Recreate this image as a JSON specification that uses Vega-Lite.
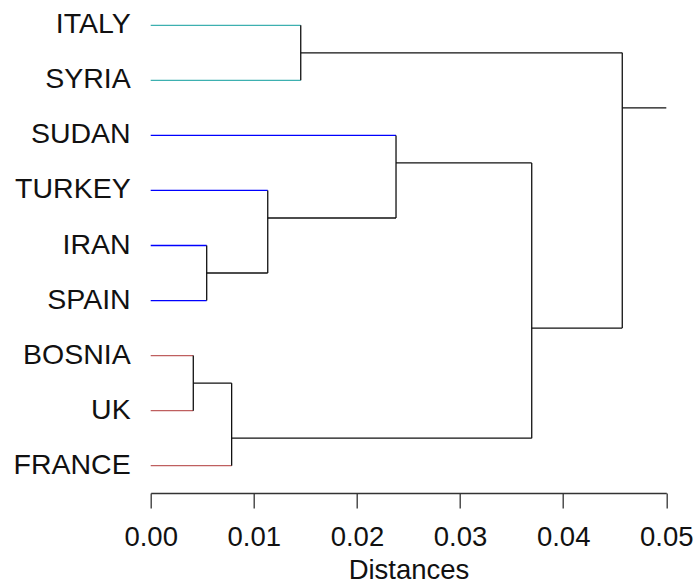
{
  "$schema": "https://vega.github.io/schema/vega-lite/v6.json",
  "width": 515.6,
  "height": 440.4,
  "autosize": "none",
  "padding": {"left": 150.7, "top": 25.3, "right": 27.7, "bottom": 119.3},
  "background": "white",
  "config": {"view": {"stroke": null}, "font": "Liberation Sans"},
  "data": {
    "values": [
      {"x": 0, "x2": 0.01455, "y": 0, "y2": 0, "grp": "g1", "label": "ITALY"},
      {"x": 0, "x2": 0.01455, "y": 1, "y2": 1, "grp": "g1", "label": "SYRIA"},
      {"x": 0, "x2": 0.02379, "y": 2, "y2": 2, "grp": "g2", "label": "SUDAN"},
      {"x": 0, "x2": 0.01135, "y": 3, "y2": 3, "grp": "g2", "label": "TURKEY"},
      {"x": 0, "x2": 0.00543, "y": 4, "y2": 4, "grp": "g2", "label": "IRAN"},
      {"x": 0, "x2": 0.00543, "y": 5, "y2": 5, "grp": "g2", "label": "SPAIN"},
      {"x": 0, "x2": 0.00413, "y": 6, "y2": 6, "grp": "g3", "label": "BOSNIA"},
      {"x": 0, "x2": 0.00413, "y": 7, "y2": 7, "grp": "g3", "label": "UK"},
      {"x": 0, "x2": 0.00785, "y": 8, "y2": 8, "grp": "g3", "label": "FRANCE"},
      {"x": 0.01455, "x2": 0.01455, "y": 0, "y2": 1, "grp": "node"},
      {"x": 0.00543, "x2": 0.00543, "y": 4, "y2": 5, "grp": "node"},
      {"x": 0.01135, "x2": 0.01135, "y": 3, "y2": 4.5, "grp": "node"},
      {"x": 0.02379, "x2": 0.02379, "y": 2, "y2": 3.5, "grp": "node"},
      {"x": 0.00413, "x2": 0.00413, "y": 6, "y2": 7, "grp": "node"},
      {"x": 0.00785, "x2": 0.00785, "y": 6.5, "y2": 8, "grp": "node"},
      {"x": 0.03695, "x2": 0.03695, "y": 2.5, "y2": 7.5, "grp": "node"},
      {"x": 0.04573, "x2": 0.04573, "y": 0.5, "y2": 5.5, "grp": "node"},
      {"x": 0.00543, "x2": 0.01135, "y": 4.5, "y2": 4.5, "grp": "node"},
      {"x": 0.01135, "x2": 0.02379, "y": 3.5, "y2": 3.5, "grp": "node"},
      {"x": 0.02379, "x2": 0.03695, "y": 2.5, "y2": 2.5, "grp": "node"},
      {"x": 0.00413, "x2": 0.00785, "y": 6.5, "y2": 6.5, "grp": "node"},
      {"x": 0.00785, "x2": 0.03695, "y": 7.5, "y2": 7.5, "grp": "node"},
      {"x": 0.03695, "x2": 0.04573, "y": 5.5, "y2": 5.5, "grp": "node"},
      {"x": 0.01455, "x2": 0.04573, "y": 0.5, "y2": 0.5, "grp": "node"},
      {"x": 0.04573, "x2": 0.05, "y": 1.5, "y2": 1.5, "grp": "node"}
    ]
  },
  "encoding": {
    "x": {
      "field": "x",
      "type": "quantitative",
      "scale": {"domain": [0, 0.05], "nice": false, "zero": false},
      "axis": {
        "title": "Distances",
        "values": [0, 0.01, 0.02, 0.03, 0.04, 0.05],
        "format": ".2f",
        "grid": false,
        "offset": 27.3,
        "domainColor": "#333333",
        "domainWidth": 1.3,
        "tickColor": "#333333",
        "tickWidth": 1.3,
        "tickSize": 15,
        "labelFontSize": 27.5,
        "labelColor": "#111111",
        "labelPadding": 15,
        "labelFlush": false,
        "labelOverlap": false,
        "titleFontSize": 27.5,
        "titleFontWeight": "normal",
        "titleColor": "#111111",
        "titlePadding": 6
      }
    },
    "y": {
      "field": "y",
      "type": "quantitative",
      "scale": {"domain": [0, 8], "reverse": true, "nice": false, "zero": false},
      "axis": null
    }
  },
  "layer": [
    {
      "mark": {"type": "rule", "strokeWidth": 1.3},
      "encoding": {
        "x2": {"field": "x2"},
        "y2": {"field": "y2"},
        "color": {
          "field": "grp",
          "type": "nominal",
          "scale": {"domain": ["g1", "g2", "g3", "node"], "range": ["#3DB0B0", "#0000FF", "#BF5F5F", "#111111"]},
          "legend": null
        }
      }
    },
    {
      "transform": [{"filter": "datum.label != null"}],
      "mark": {"type": "text", "align": "right", "baseline": "middle", "dx": -20, "dy": -1, "fontSize": 28.5, "color": "#111111"},
      "encoding": {"text": {"field": "label"}}
    }
  ]
}
